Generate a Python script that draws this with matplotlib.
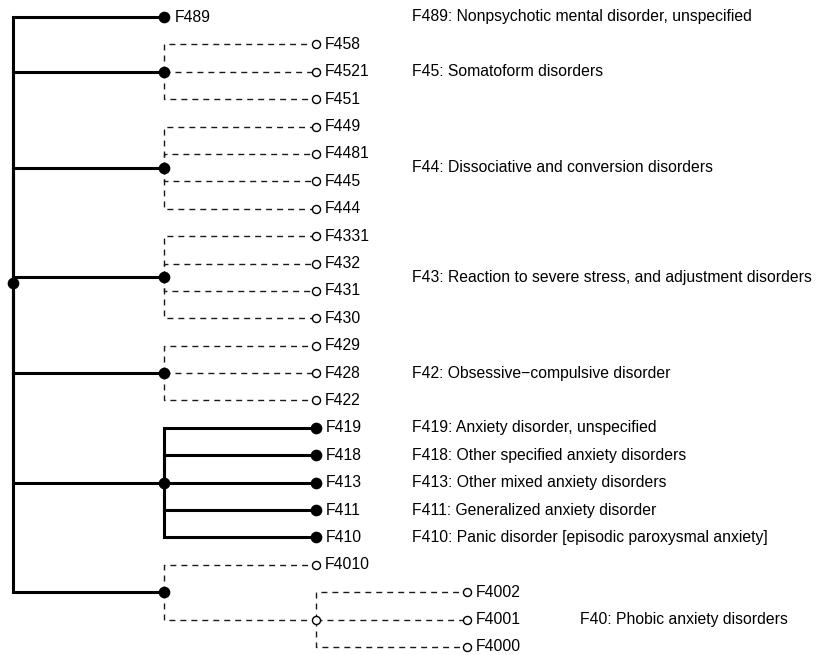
import matplotlib
matplotlib.use("Agg")
import matplotlib.pyplot as plt
import numpy as np

plt.rcParams['font.family'] = ['Liberation Sans', 'DejaVu Sans']
plt.rcParams['lines.scale_dashes'] = False

# Tree structure (node, parent, observed/filled)
nodes = ["root", "F489", "F45", "F458", "F4521", "F451",
         "F44", "F449", "F4481", "F445", "F444",
         "F43", "F4331", "F432", "F431", "F430",
         "F42", "F429", "F428", "F422",
         "F41", "F419", "F418", "F413", "F411", "F410",
         "F40", "F4010", "F400", "F4002", "F4001", "F4000"]
parents = [None, "root", "root", "F45", "F45", "F45",
           "root", "F44", "F44", "F44", "F44",
           "root", "F43", "F43", "F43", "F43",
           "root", "F42", "F42", "F42",
           "root", "F41", "F41", "F41", "F41", "F41",
           "root", "F40", "F40", "F400", "F400", "F400"]
filled = [True, True, True, False, False, False,
          True, False, False, False, False,
          True, False, False, False, False,
          True, False, False, False,
          True, True, True, True, True, True,
          True, False, False, False, False, False]

desc_nodes = ["F489", "F45", "F44", "F43", "F42",
              "F419", "F418", "F413", "F411", "F410", "F400"]
desc_texts = ["F489: Nonpsychotic mental disorder, unspecified",
              "F45: Somatoform disorders",
              "F44: Dissociative and conversion disorders",
              "F43: Reaction to severe stress, and adjustment disorders",
              "F42: Obsessive\u2212compulsive disorder",
              "F419: Anxiety disorder, unspecified",
              "F418: Other specified anxiety disorders",
              "F413: Other mixed anxiety disorders",
              "F411: Generalized anxiety disorder",
              "F410: Panic disorder [episodic paroxysmal anxiety]",
              "F40: Phobic anxiety disorders"]

# compute layout
children = {n: [] for n in nodes}
for n, p in zip(nodes, parents):
    if p is not None:
        children[p].append(n)
level = {}
ypos = {}
counter = [0]

def assign(n, lv):
    level[n] = lv
    if not children[n]:
        ypos[n] = counter[0]
        counter[0] += 1
    else:
        for c in children[n]:
            assign(c, lv + 1)
        ypos[n] = np.mean([ypos[c] for c in children[n]])

assign("root", 0)
fill = dict(zip(nodes, filled))

W, H = 830, 655
fig = plt.figure(figsize=(W / 100, H / 100), dpi=100)
ax = fig.add_axes([0, 0, 1, 1])
px_per_lvl = 151.3
px_per_row = 27.39
x0, y0 = 13, 17
ax.set_xlim(-x0 / px_per_lvl, (W - x0) / px_per_lvl)
ax.set_ylim((H - y0) / px_per_row, -y0 / px_per_row)
ax.axis('off')

solid_kw = dict(color='black', lw=2.2, solid_capstyle='butt', solid_joinstyle='miter', zorder=2)
dash_kw = dict(color='#1a1a1a', lw=1.0, linestyle=(0, (4.3, 3.6)), zorder=1)

for n, p in zip(nodes, parents):
    if p is None:
        continue
    xs = [level[p], level[p], level[n]]
    ys = [ypos[p], ypos[n], ypos[n]]
    ax.plot(xs, ys, **(solid_kw if fill[n] else dash_kw))

for n in nodes:
    x, y = level[n], ypos[n]
    if fill[n]:
        ax.plot(x, y, 'o', ms=7.4, color='black', zorder=4)
    else:
        ax.plot(x, y, 'o', ms=5.8, mfc='white', mec='black', mew=1.0, zorder=4)
    if not children[n]:
        ax.annotate(n, (x, y), xytext=(7.5 if fill[n] else 6.5, 0), textcoords='offset points',
                    ha='left', va='center', fontsize=11.3)

desc_x_main = (412 - x0) / px_per_lvl
desc_x_deep = (580 - x0) / px_per_lvl
for n, t in zip(desc_nodes, desc_texts):
    dx = desc_x_deep if level[n] >= 2 and children[n] else desc_x_main
    ax.text(dx, ypos[n], t, ha='left', va='center', fontsize=11.3)

fig.savefig("out.png", dpi=100)
